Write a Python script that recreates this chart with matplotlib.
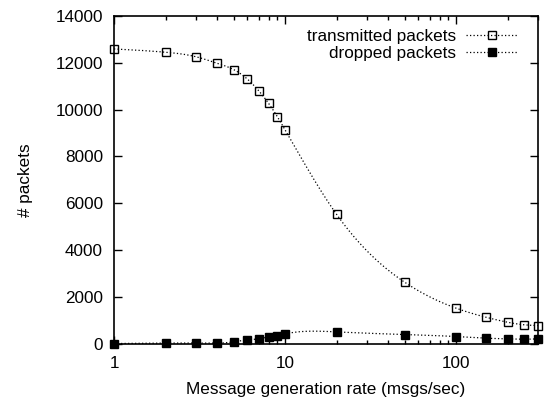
import numpy as np
import matplotlib
matplotlib.use("Agg")
import matplotlib.pyplot as plt
from matplotlib.ticker import LogLocator, NullFormatter

plt.rcParams['font.family'] = ['Liberation Sans', 'DejaVu Sans']

rate = [1, 2, 3, 4, 5, 6, 7, 8, 9, 10, 20, 50, 100, 150, 200, 250, 300]
transmitted = [12590, 12450, 12260, 11980, 11710, 11310, 10810, 10270, 9700,
               9130, 5520, 2620, 1510, 1120, 910, 800, 770]
dropped = [0, 20, 20, 20, 70, 157, 200, 285, 340, 413, 498, 384, 299, 228,
           199, 185, 199]


def natural_spline(x, y, xs):
    x = np.asarray(x, float); y = np.asarray(y, float)
    n = len(x)
    h = np.diff(x)
    A = np.zeros((n, n)); b = np.zeros(n)
    A[0, 0] = 1; A[-1, -1] = 1
    for i in range(1, n - 1):
        A[i, i - 1] = h[i - 1]
        A[i, i] = 2 * (h[i - 1] + h[i])
        A[i, i + 1] = h[i]
        b[i] = 6 * ((y[i + 1] - y[i]) / h[i] - (y[i] - y[i - 1]) / h[i - 1])
    M = np.linalg.solve(A, b)
    idx = np.clip(np.searchsorted(x, xs) - 1, 0, n - 2)
    x0 = x[idx]; x1 = x[idx + 1]; hh = x1 - x0
    t0 = x1 - xs; t1 = xs - x0
    return (M[idx] * t0 ** 3 / (6 * hh) + M[idx + 1] * t1 ** 3 / (6 * hh)
            + (y[idx] / hh - M[idx] * hh / 6) * t0
            + (y[idx + 1] / hh - M[idx + 1] * hh / 6) * t1)


FS = 12.3
fig = plt.figure(figsize=(5.44, 3.99), dpi=100)
ax = fig.add_axes([0.2096, 0.139, 0.779, 0.821])

lx = np.log10(rate)
xs = np.linspace(lx[0], lx[-1], 400)
xplot = 10 ** xs

lw = 0.9
dots = (0, (1, 1.8))
ax.plot(xplot, natural_spline(lx, transmitted, xs), color='black', lw=lw,
        linestyle=dots)
ax.plot(xplot, natural_spline(lx, dropped, xs), color='black', lw=lw,
        linestyle=dots)
ms = 6
ax.plot(rate, transmitted, linestyle='none', marker='s', markersize=ms,
        markerfacecolor='none', markeredgecolor='black', markeredgewidth=1.0,
        clip_on=False, zorder=5)
ax.plot(rate, dropped, linestyle='none', marker='s', markersize=ms,
        markerfacecolor='black', markeredgecolor='black', clip_on=False,
        zorder=5)

h1, = ax.plot([], [], color='black', lw=lw, linestyle=dots, marker='s',
              markersize=ms, markerfacecolor='none', markeredgecolor='black')
h2, = ax.plot([], [], color='black', lw=lw, linestyle=dots, marker='s',
              markersize=ms, markerfacecolor='black', markeredgecolor='black')
leg = ax.legend([h1, h2], ['transmitted packets', 'dropped packets'],
                loc='upper right', frameon=False, markerfirst=False,
                handlelength=3.0, handletextpad=0.6, labelspacing=0.12,
                fontsize=FS, borderaxespad=0.0,
                bbox_to_anchor=(0.968, 0.981))

ax.set_xscale('log')
ax.set_xlim(1, 300)
ax.set_ylim(0, 14000)
ax.set_yticks(np.arange(0, 14001, 2000))
ax.set_xticks([1, 10, 100])
ax.set_xticklabels(['1', '10', '100'])
ax.xaxis.set_minor_locator(LogLocator(base=10, subs=np.arange(2, 10), numticks=20))
ax.xaxis.set_minor_formatter(NullFormatter())

ax.tick_params(which='both', direction='in', top=True, right=True,
               labelsize=FS, width=1.0, color='black')
ax.tick_params(which='major', length=5.5)
ax.tick_params(axis='y', which='major', pad=8)
ax.tick_params(axis='x', which='major', pad=9)
ax.tick_params(which='minor', length=3)
for s in ax.spines.values():
    s.set_linewidth(1.2)

ax.set_xlabel('Message generation rate (msgs/sec)', fontsize=FS, labelpad=8)
ax.set_ylabel('# packets', fontsize=FS, labelpad=16)

fig.savefig('out.png', dpi=100)
